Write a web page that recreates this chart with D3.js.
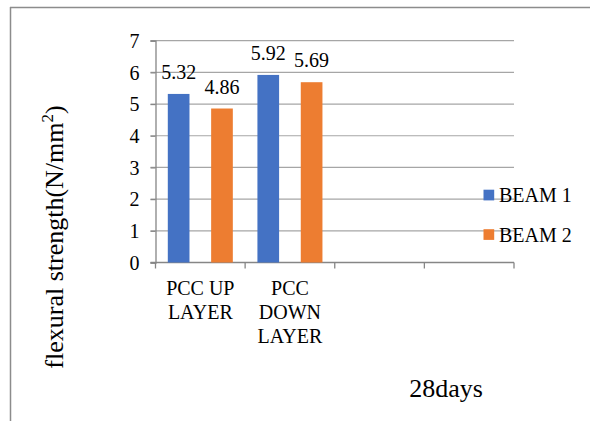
<!DOCTYPE html>
<html>
<head>
<meta charset="utf-8">
<script src="https://cdn.jsdelivr.net/npm/d3@7"></script>
<style>
  body { margin: 0; background: #fff; }
  svg text { font-family: "Liberation Serif", "DejaVu Serif", serif !important; fill: #000; }
</style>
</head>
<body>
<svg id="chart" width="590" height="421" font-family="Liberation Serif"></svg>
<script>
// data
const categories = ["PCC UP|LAYER", "PCC|DOWN|LAYER", "", ""];
const seriesNames = ["BEAM 1", "BEAM 2"];
const beam1 = [5.32, 5.92, null, null];
const beam2 = [4.86, 5.69, null, null];
const yTicks = [0, 1, 2, 3, 4, 5, 6, 7];
const colors = ["#4472C4", "#ED7D31"];

const FONT = "Liberation Serif";
const svg = d3.select("#chart");

// outer frame (only top and left edges visible)
svg.append("line").attr("x1", 10).attr("x2", 590).attr("y1", 7.5).attr("y2", 7.5)
    .attr("stroke", "#8c8c8c").attr("stroke-width", 1.5);
svg.append("line").attr("x1", 10.5).attr("x2", 10.5).attr("y1", 7).attr("y2", 421)
    .attr("stroke", "#8c8c8c").attr("stroke-width", 1.5);

const plot = { left: 155.5, right: 514, top: 40.7, bottom: 262.5 };

const x0 = d3.scaleBand().domain(d3.range(categories.length))
    .range([plot.left, plot.right]).paddingInner(0).paddingOuter(0);
const inner = 12.3;
const x1 = d3.scaleBand().domain(d3.range(seriesNames.length))
    .range([inner, x0.bandwidth() - inner]).paddingInner(0.5).paddingOuter(0);
const y = d3.scaleLinear().domain([0, 7]).range([plot.bottom, plot.top]);

// gridlines
svg.append("g").selectAll("line").data(yTicks.filter(d => d > 0)).join("line")
    .attr("x1", plot.left - 5).attr("x2", plot.right)
    .attr("y1", d => y(d)).attr("y2", d => y(d))
    .attr("stroke", "#a6a6a6").attr("stroke-width", 1.2);

// y axis
const yAxis = svg.append("g").attr("transform", `translate(${plot.left},0)`)
    .call(d3.axisLeft(y).tickValues(yTicks).tickSize(5).tickPadding(11).tickFormat(d3.format("d")));
yAxis.attr("font-family", FONT).attr("font-size", 20);
yAxis.select(".domain").attr("stroke", "#868686").attr("stroke-width", 1.3);
yAxis.selectAll(".tick line").attr("stroke", "#868686").attr("stroke-width", 1.2);
yAxis.selectAll(".tick text").attr("font-size", 20).attr("font-family", FONT)
    .attr("fill", "#000").attr("dy", "0.34em");

// x axis
const xAxis = svg.append("g").attr("transform", `translate(0,${plot.bottom})`);
xAxis.append("line").attr("x1", plot.left - 5).attr("x2", plot.right)
    .attr("stroke", "#868686").attr("stroke-width", 1.5);
const xTickPos = d3.range(categories.length).map(i => x0(i)).concat([plot.right]);
xAxis.selectAll(".xt").data(xTickPos).join("line").attr("class", "xt")
    .attr("x1", d => d).attr("x2", d => d).attr("y1", 0).attr("y2", 6)
    .attr("stroke", "#868686").attr("stroke-width", 1.3);

// category labels
const catG = svg.append("g").attr("font-family", FONT);
categories.forEach((c, i) => {
    if (!c) return;
    const cx = x0(i) + x0.bandwidth() / 2;
    const t = catG.append("text").attr("text-anchor", "middle").attr("font-size", 20)
        .attr("font-family", FONT).attr("x", cx).attr("y", 295);
    c.split("|").forEach((line, k) => {
        t.append("tspan").attr("x", cx).attr("y", 295 + k * 24).text(line);
    });
});

// bars
const series = [beam1, beam2];
series.forEach((vals, s) => {
    const g = svg.append("g");
    const data = vals.map((v, i) => ({ i, v })).filter(d => d.v != null);
    g.selectAll("rect").data(data).join("rect")
        .attr("x", d => x0(d.i) + x1(s))
        .attr("width", x1.bandwidth())
        .attr("y", d => y(d.v))
        .attr("height", d => y(0) - y(d.v))
        .attr("fill", colors[s]);
    g.selectAll("text").data(data).join("text")
        .attr("text-anchor", "middle").attr("font-size", 20).attr("font-family", FONT)
        .attr("x", d => x0(d.i) + x1(s) + x1.bandwidth() / 2)
        .attr("y", d => y(d.v) - 15)
        .text(d => d3.format(".2f")(d.v));
});

// legend
const legend = svg.append("g");
seriesNames.forEach((name, s) => {
    const ly = 195 + s * 39.5;
    legend.append("rect").attr("x", 483.5).attr("y", ly - 5.3).attr("width", 10.7).attr("height", 10.7)
        .attr("fill", colors[s]);
    legend.append("text").attr("x", 499).attr("y", ly + 7).attr("font-size", 20)
        .attr("font-family", FONT).text(name);
});

// y axis title
const yt = svg.append("text").attr("text-anchor", "middle").attr("font-size", 26)
    .attr("font-family", FONT).attr("transform", "translate(63,237) rotate(-90)");
yt.append("tspan").text("flexural strength(N/mm");
yt.append("tspan").attr("font-size", 17).attr("dy", "-0.6em").text("2");
yt.append("tspan").attr("dy", "0.4em").text(")");

// x axis title
svg.append("text").attr("text-anchor", "middle").attr("font-size", 26).attr("font-family", FONT)
    .attr("x", 446).attr("y", 397).text("28days");
</script>
</body>
</html>
